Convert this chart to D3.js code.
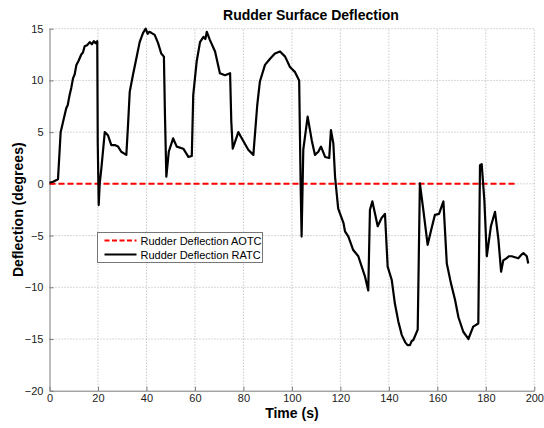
<!DOCTYPE html>
<html>
<head>
<meta charset="utf-8">
<script src="https://cdn.jsdelivr.net/npm/d3@7"></script>
<style>
  html, body { margin: 0; padding: 0; background: #fff; }
  svg { display: block; font-family: "Liberation Sans", Arial, sans-serif; }
</style>
</head>
<body>
<svg id="chart" width="544" height="428"></svg>
<script>
const title = "Rudder Surface Deflection";
const xLabel = "Time (s)";
const yLabel = "Deflection (degrees)";
const xTicks = [0, 20, 40, 60, 80, 100, 120, 140, 160, 180, 200];
const yTicks = [-20, -15, -10, -5, 0, 5, 10, 15];
const seriesNames = ["Rudder Deflection AOTC", "Rudder Deflection RATC"];

const aotcTime = [0, 192.4];
const aotcValue = [0, 0];

const ratcTime = [0, 1.5, 3.5, 4.0, 4.6, 5.6, 6.9, 7.5, 8.3, 9.0, 9.7, 10.4, 11.1, 12.0, 13.1, 13.8, 14.5, 15.5, 16.6, 17.5, 18.3, 19.0, 19.7,
  19.9, 20.3, 20.7, 21.4, 22.8, 24.1, 25.5, 26.9, 28.3, 29.6, 31.7,
  32.4, 33.1, 34.4, 35.8, 37.2, 38.6, 39.7, 40.5, 41.2, 42.0, 43.4, 44.8, 46.1, 47.2,
  47.6, 48.2, 49.2, 51.0, 52.5, 55.2, 57.3, 58.7,
  59.3, 60.7, 62.1, 63.5, 64.3, 64.9, 66.2, 68.3, 70.3, 72.4, 74.5,
  75.0, 75.6, 77.9, 79.3, 82.0, 84.1,
  85.7, 86.8, 88.9, 91.0, 93.0, 95.1, 97.2, 99.2, 101.3, 103.0,
  103.6, 104.0, 104.7, 106.5, 108.2, 109.5, 110.9, 112.0, 113.7, 115.4, 116.1, 117.1, 117.8,
  119.1, 120.5, 121.3, 121.9, 123.3, 125.3, 127.4, 128.8, 130.2, 131.5,
  132.2, 133.2, 134.3, 135.4, 137.0, 138.4,
  139.5, 141.2, 142.5, 143.9, 145.3, 146.7, 147.7, 148.7, 149.4, 150.1, 151.9,
  152.8, 154.2, 156.0, 157.4, 159.0, 160.7, 162.5,
  163.9, 165.6, 167.3, 168.7, 170.7, 172.8, 174.8, 176.9,
  177.6, 178.3, 179.4, 180.4, 182.1, 183.8, 185.2, 186.3, 187.2, 188.5, 189.6, 190.7, 192.0, 193.4, 194.5, 195.5, 196.9, 197.5];
const ratcValue = [0.1, 0.2, 0.45, 2.5, 5.0, 6.0, 7.3, 7.6, 8.6, 9.3, 10.2, 10.6, 11.5, 11.9, 12.5, 12.7, 13.3, 13.4, 13.7, 13.5, 13.8, 13.6, 13.8,
  4.0, -2.05, 0.0, 1.5, 5.0, 4.7, 3.75, 3.75, 3.6, 3.1, 2.8,
  5.7, 8.9, 10.5, 12.1, 13.7, 14.6, 15.0, 14.5, 14.7, 14.6, 14.4, 13.6, 12.6, 12.3,
  7.0, 0.7, 3.1, 4.4, 3.6, 3.4, 2.6, 2.7,
  8.6, 11.8, 13.7, 14.2, 14.0, 14.7, 13.9, 12.8, 10.7, 10.5, 10.7,
  6.0, 3.4, 5.0, 4.4, 3.3, 2.8,
  7.6, 9.9, 11.5, 12.1, 12.6, 12.8, 12.3, 11.3, 10.8, 10.0,
  0.0, -5.1, 3.3, 6.5, 4.2, 2.8, 3.1, 3.6, 2.6, 2.5, 5.2, 3.9, 0.7,
  -2.4, -3.3, -3.8, -4.6, -5.1, -6.4, -7.0, -8.0, -9.0, -10.3,
  -2.5, -1.7, -2.9, -4.1, -3.3, -2.9,
  -8.0, -9.3, -11.6, -13.3, -14.6, -15.3, -15.6, -15.6, -15.2, -15.1, -14.1,
  0.05, -2.5, -5.9, -4.5, -3.0, -2.9, -1.7,
  -7.7, -9.6, -11.2, -12.9, -14.3, -15.0, -13.8, -13.5,
  1.8, 1.9, -1.6, -7.0, -4.1, -2.7, -5.4, -8.5, -7.4, -7.2, -7.0, -7.0, -7.1, -7.2, -6.9, -6.7, -7.0, -7.7];

const svg = d3.select("#chart");
const margin = { left: 49.5, right: 9.7, top: 28.7, bottom: 37.3 };
const W = 544, H = 428;
const x = d3.scaleLinear().domain([0, 200]).range([margin.left, W - margin.right]);
const y = d3.scaleLinear().domain([-20, 15]).range([H - margin.bottom, margin.top]);

// grid
const grid = svg.append("g");
grid.selectAll(".gx").data(xTicks.filter(d => d !== 0)).enter().append("line")
  .attr("x1", d => x(d)).attr("x2", d => x(d))
  .attr("y1", y(-20)).attr("y2", y(15))
  .attr("stroke", "#b0b0b0").attr("stroke-width", 1).attr("stroke-dasharray", "1,2");
grid.selectAll(".gy").data(yTicks.filter(d => d !== -20)).enter().append("line")
  .attr("x1", x(0)).attr("x2", x(200))
  .attr("y1", d => y(d)).attr("y2", d => y(d))
  .attr("stroke", "#b0b0b0").attr("stroke-width", 1).attr("stroke-dasharray", "1,2");

// axes
const xAxis = svg.append("g").attr("transform", `translate(0,${y(-20)})`)
  .call(d3.axisBottom(x).tickValues(xTicks).tickSizeInner(-4).tickSizeOuter(0).tickPadding(4));
const yAxis = svg.append("g").attr("transform", `translate(${x(0)},0)`)
  .call(d3.axisLeft(y).tickValues(yTicks).tickSizeInner(-4).tickSizeOuter(0).tickPadding(6));
[xAxis, yAxis].forEach(a => {
  a.select(".domain").attr("stroke", "#7a7a7a");
  a.selectAll(".tick line").attr("stroke", "#7a7a7a");
  a.selectAll("text").attr("font-size", 11).attr("fill", "#222")
    .attr("font-family", "'Liberation Sans', Arial, sans-serif");
});

// lines
const line = d3.line().x(d => x(d[0])).y(d => y(d[1]));
svg.append("path").datum(aotcTime.map((t, i) => [t, aotcValue[i]]))
  .attr("d", line).attr("fill", "none").attr("stroke", "#ff0000")
  .attr("stroke-width", 2).attr("stroke-dasharray", "6,3");
svg.append("path").datum(ratcTime.map((t, i) => [t, ratcValue[i]]))
  .attr("d", line).attr("fill", "none").attr("stroke", "#000")
  .attr("stroke-width", 2.2).attr("stroke-linejoin", "round");

// title & labels
svg.append("text").attr("x", 311).attr("y", 20)
  .attr("text-anchor", "middle").attr("font-size", 14).attr("font-weight", "bold").text(title);
svg.append("text").attr("x", (x(0) + x(200)) / 2).attr("y", 418)
  .attr("text-anchor", "middle").attr("font-size", 14).attr("font-weight", "bold").text(xLabel);
svg.append("text").attr("transform", `translate(23,${(y(-20) + y(15)) / 2}) rotate(-90)`)
  .attr("text-anchor", "middle").attr("font-size", 14).attr("font-weight", "bold").text(yLabel);

// legend
const lg = svg.append("g").attr("transform", "translate(97.5,232.5)");
lg.append("rect").attr("width", 165).attr("height", 30).attr("fill", "#fff").attr("stroke", "#777").attr("stroke-width", 1);
lg.append("line").attr("x1", 7).attr("x2", 39).attr("y1", 8).attr("y2", 8)
  .attr("stroke", "#ff0000").attr("stroke-width", 2).attr("stroke-dasharray", "5,2.5");
lg.append("line").attr("x1", 7).attr("x2", 39).attr("y1", 22).attr("y2", 22)
  .attr("stroke", "#000").attr("stroke-width", 2);
lg.append("text").attr("x", 43).attr("y", 12).attr("font-size", 11).text(seriesNames[0]);
lg.append("text").attr("x", 43).attr("y", 26).attr("font-size", 11).text(seriesNames[1]);
</script>
</body>
</html>
